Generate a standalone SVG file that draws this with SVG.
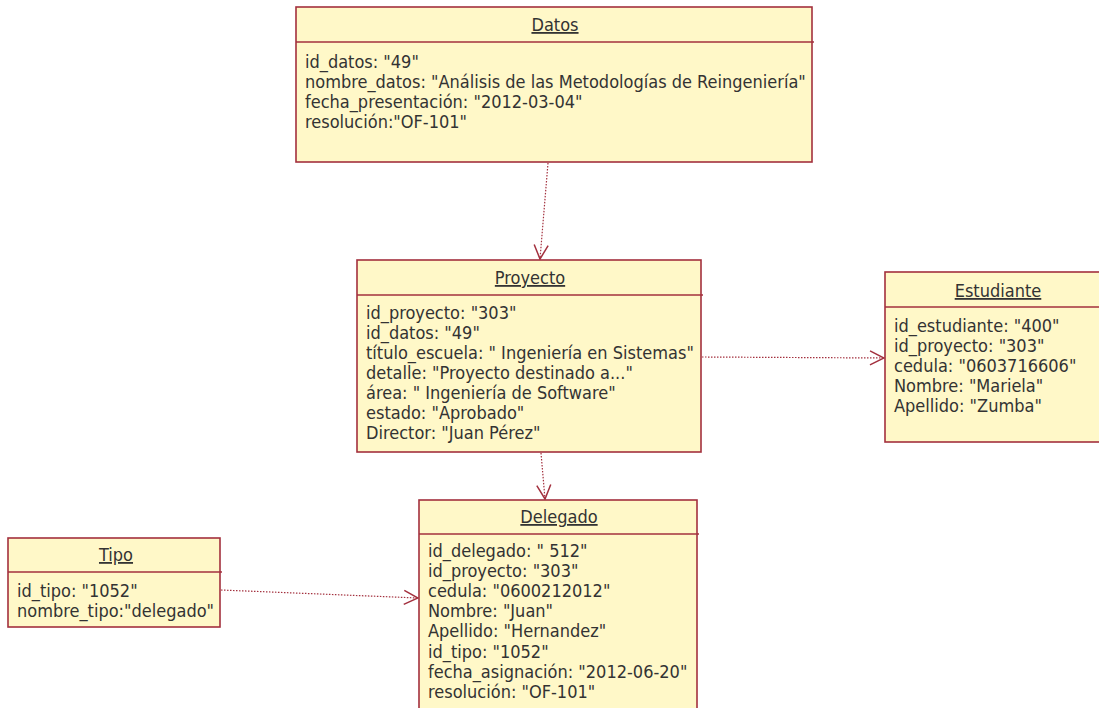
<svg xmlns="http://www.w3.org/2000/svg" width="1099" height="708" viewBox="0 0 1099 708">
  <style>
    .box { fill: #fff8c8; stroke: #a3303e; stroke-width: 1.6; }
    .sep { stroke: #a3303e; stroke-width: 1.6; }
    .title { font-family: "DejaVu Sans Condensed", "DejaVu Sans", sans-serif; font-size: 18px; fill: #333; text-anchor: middle; text-decoration: underline; }
    .attr { font-family: "DejaVu Sans Condensed", "DejaVu Sans", sans-serif; font-size: 18px; fill: #333; }
    .link { fill: none; stroke: #a3303e; stroke-width: 1.2; stroke-dasharray: 1.5 1.5; }
  </style>
  <defs>
    <marker id="open" viewBox="0 0 16 16" refX="15" refY="8" markerWidth="16" markerHeight="16" markerUnits="userSpaceOnUse" orient="auto">
      <path d="M1,1 L15,8 L1,15" fill="none" stroke="#a3303e" stroke-width="1.5"/>
    </marker>
  </defs>
  <rect width="1099" height="708" fill="#ffffff"/>

  <g id="connectors">
    <line class="link" x1="548" y1="163" x2="540" y2="259" marker-end="url(#open)"/>
    <line class="link" x1="541" y1="453" x2="545" y2="499" marker-end="url(#open)"/>
    <line class="link" x1="702" y1="357" x2="884" y2="358" marker-end="url(#open)"/>
    <line class="link" x1="221" y1="590" x2="418" y2="598" marker-end="url(#open)"/>
  </g>

  <g id="datos">
    <rect class="box" x="296" y="7" width="516" height="155"/>
    <line class="sep" x1="296" y1="42" x2="814" y2="42"/>
    <text class="title" x="555" y="31">Datos</text>
    <text class="attr" x="305" y="68">id_datos: "49"</text>
    <text class="attr" x="305" y="88">nombre_datos: "Análisis de las Metodologías de Reingeniería"</text>
    <text class="attr" x="305" y="108">fecha_presentación: "2012-03-04"</text>
    <text class="attr" x="305" y="128">resolución:"OF-101"</text>
  </g>

  <g id="proyecto">
    <rect class="box" x="357" y="260" width="344" height="192"/>
    <line class="sep" x1="357" y1="295" x2="703" y2="295"/>
    <text class="title" x="530" y="284">Proyecto</text>
    <text class="attr" x="366" y="319">id_proyecto: "303"</text>
    <text class="attr" x="366" y="339">id_datos: "49"</text>
    <text class="attr" x="366" y="359">título_escuela: " Ingeniería en Sistemas"</text>
    <text class="attr" x="366" y="379">detalle: "Proyecto destinado a..."</text>
    <text class="attr" x="366" y="399">área: " Ingeniería de Software"</text>
    <text class="attr" x="366" y="419">estado: "Aprobado"</text>
    <text class="attr" x="366" y="439">Director: "Juan Pérez"</text>
  </g>

  <g id="estudiante">
    <rect class="box" x="885" y="272" width="220" height="170"/>
    <line class="sep" x1="885" y1="307" x2="1099" y2="307"/>
    <text class="title" x="998" y="297">Estudiante</text>
    <text class="attr" x="894" y="332">id_estudiante: "400"</text>
    <text class="attr" x="894" y="352">id_proyecto: "303"</text>
    <text class="attr" x="894" y="372">cedula: "0603716606"</text>
    <text class="attr" x="894" y="392">Nombre: "Mariela"</text>
    <text class="attr" x="894" y="412">Apellido: "Zumba"</text>
  </g>

  <g id="tipo">
    <rect class="box" x="8" y="538" width="212" height="89"/>
    <line class="sep" x1="8" y1="572" x2="222" y2="572"/>
    <text class="title" x="116" y="561">Tipo</text>
    <text class="attr" x="17" y="597">id_tipo: "1052"</text>
    <text class="attr" x="17" y="617">nombre_tipo:"delegado"</text>
  </g>

  <g id="delegado">
    <rect class="box" x="419" y="500" width="278" height="220"/>
    <line class="sep" x1="419" y1="534" x2="699" y2="534"/>
    <text class="title" x="559" y="523">Delegado</text>
    <text class="attr" x="428" y="557">id_delegado: " 512"</text>
    <text class="attr" x="428" y="577">id_proyecto: "303"</text>
    <text class="attr" x="428" y="597">cedula: "0600212012"</text>
    <text class="attr" x="428" y="617">Nombre: "Juan"</text>
    <text class="attr" x="428" y="637">Apellido: "Hernandez"</text>
    <text class="attr" x="428" y="658">id_tipo: "1052"</text>
    <text class="attr" x="428" y="678">fecha_asignación: "2012-06-20"</text>
    <text class="attr" x="428" y="698">resolución: "OF-101"</text>
  </g>
</svg>
